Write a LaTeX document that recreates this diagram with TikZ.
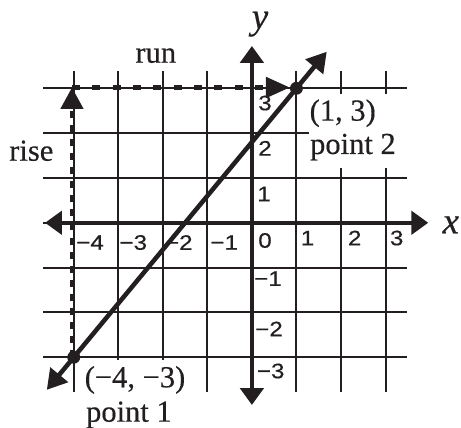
\documentclass[tikz,border=0pt]{standalone}
\usepackage{fontspec}
\usepackage{graphicx}
\setmainfont[FakeBold=0.4]{Liberation Serif}
\newfontfamily\tickfont[FakeBold=0.4]{Liberation Sans}
\usetikzlibrary{arrows.meta,calc}
\definecolor{ink}{HTML}{231F20}
\begin{document}
\begin{tikzpicture}[x=1cm,y=1.0065cm,
  gridline/.style={line width=1.28pt, draw=ink},
  axisline/.style={line width=2.9pt, draw=ink,
    {Triangle[length=0.38cm,width=0.52cm]}-{Triangle[length=0.38cm,width=0.52cm]}},
  graphline/.style={line width=2.9pt, draw=ink,
    {Triangle[length=0.44cm,width=0.5cm]}-{Triangle[length=0.44cm,width=0.5cm]}},
  riseline/.style={line width=2.2pt, draw=ink, dash pattern=on 4.5pt off 4.5pt,
    -{Triangle[length=0.48cm,width=0.5cm]}},
  runline/.style={line width=3pt, draw=ink, dash pattern=on 5.1pt off 7.9pt,
    -{Triangle[length=0.54cm,width=0.45cm]}},
  ticklabel/.style={font=\tickfont\fontsize{13.4}{14}\selectfont, inner sep=0pt, text=ink},
  txtlabel/.style={font=\fontsize{19.5}{22}\selectfont, inner sep=0pt, text=ink},
  axislabel/.style={font=\fontsize{23.6}{26}\selectfont\itshape, inner sep=0pt, text=ink},
  dot/.style={circle, fill=ink, inner sep=0pt, minimum size=0.29cm}]
\useasboundingbox (-5.656,-4.577) rectangle (4.695,4.970);

% grid
\foreach \x in {-4,...,3} \draw[gridline] (\x,-3.768) -- (\x,3.386);
\foreach \y in {-3,...,3} \draw[gridline] (-4.683,\y) -- (3.475,\y);

% white backgrounds behind point labels
\fill[white] (1.282,1.222) rectangle (3.6,2.873);
\fill[white] (-3.93,-3.05) rectangle (-1.06,-4.0);

% tick labels
\node[ticklabel] (tm4) at (-3.634,-0.44) {\scalebox{1.15}[1]{−4}};
\node[ticklabel] (tm3) at (-2.663,-0.44) {\scalebox{1.15}[1]{−3}};
\node[ticklabel] (tm2) at (-1.641,-0.44) {\scalebox{1.15}[1]{−2}};
\node[ticklabel] (tm1) at (-0.62,-0.44) {\scalebox{1.15}[1]{−1}};
\node[ticklabel] (t0) at (0.294,-0.395) {\scalebox{1.15}[1]{0}};
\node[ticklabel] (tx1) at (1.248,-0.34) {\scalebox{1.15}[1]{1}};
\node[ticklabel] (tx2) at (2.308,-0.34) {\scalebox{1.15}[1]{2}};
\node[ticklabel] (tx3) at (3.251,-0.34) {\scalebox{1.15}[1]{3}};
\node[ticklabel] (ty3) at (0.294,2.672) {\scalebox{1.15}[1]{3}};
\node[ticklabel] (ty2) at (0.294,1.662) {\scalebox{1.15}[1]{2}};
\node[ticklabel] (ty1) at (0.272,0.642) {\scalebox{1.15}[1]{1}};
\node[ticklabel] (tym1) at (0.361,-1.247) {\scalebox{1.15}[1]{−1}};
\node[ticklabel] (tym2) at (0.384,-2.369) {\scalebox{1.15}[1]{−2}};
\node[ticklabel] (tym3) at (0.422,-3.306) {\scalebox{1.15}[1]{−3}};

% axes
\coordinate (xl) at (-4.645,0);
\coordinate (xr) at (3.96,0);
\coordinate (yb) at (0,-4.064);
\coordinate (yt) at (0,3.944);
\draw[axisline] (xl) -- (xr);
\draw[axisline] (yb) -- (yt);

% points
\coordinate (P1) at (-4,-3);
\coordinate (P2) at (1,3);

% rise and run
\coordinate (rb) at (-4.04,-3);
\coordinate (rt) at (-4.04,3.018);
\coordinate (re) at (0.855,3.018);
\draw[riseline] (rb) -- (rt);
\draw[runline] (rt) -- (re);

% graph line
\coordinate (L1) at ($(P1)!-0.121!(P2)$);
\coordinate (L2) at ($(P2)!-0.136!(P1)$);
\draw[graphline] (L1) -- (L2);
\node[dot] (d1) at (P1) {};
\node[dot] (d2) at (P2) {};

% labels
\node[txtlabel, anchor=base] (run) at (-2.158,3.571) {run};
\node[txtlabel, anchor=base] (rise) at (-4.953,1.385) {rise};
\node[txtlabel, anchor=base west] (c2) at (1.29,2.28) {(1, 3)};
\node[txtlabel, anchor=base west] (n2) at (1.30,1.535) {point 2};
\node[txtlabel, anchor=base west] (c1) at (-3.76,-3.669) {(−4, −3)};
\node[txtlabel, anchor=base west] (n1) at (-3.73,-4.437) {point 1};
\node[axislabel, anchor=base] (ylab) at (0.182,4.33) {y};
\node[axislabel, anchor=base] (xlab) at (4.466,-0.234) {x};
\end{tikzpicture}
\end{document}
